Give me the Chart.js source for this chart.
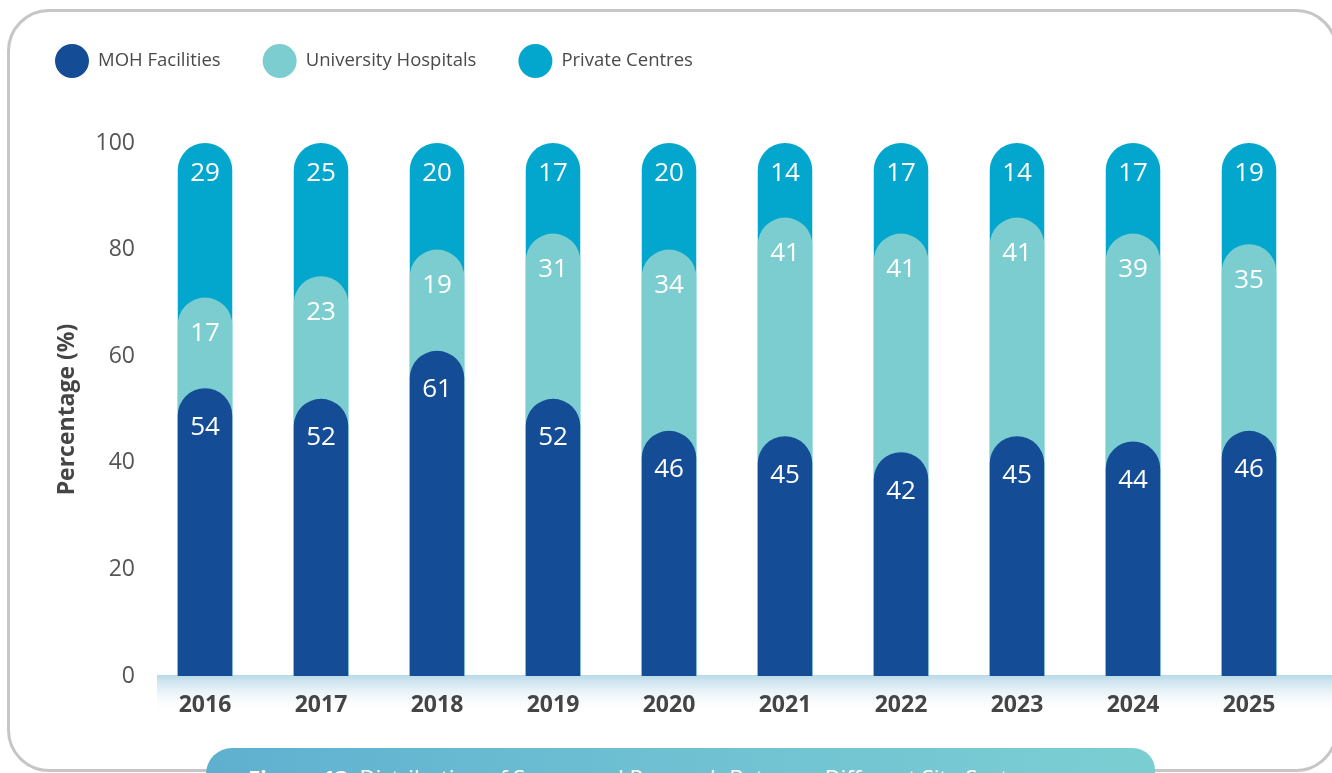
<!DOCTYPE html>
<html>
<head>
<meta charset="utf-8">
<script src="https://cdn.jsdelivr.net/npm/chart.js@4.4.1/dist/chart.umd.min.js"></script>
<style>
  html, body { margin: 0; padding: 0; background: #fff; }
  body { width: 1332px; height: 773px; position: relative; overflow: hidden; font-family: "Open Sans", sans-serif; }
  .card {
    position: absolute; left: 7px; top: 9px; width: 1325px; height: 757px;
    border: 3px solid #c6c6c8; border-radius: 42px; box-sizing: content-box;
  }
  .wrap { position: absolute; left: 0; top: 0; width: 1332px; height: 773px; }
  .banner {
    position: absolute; left: 206px; top: 748px; width: 949px; height: 60px;
    border-radius: 26px 22px 0 0;
    background: linear-gradient(90deg, #5fb0d0 0%, #6fc1d2 50%, #7bcfd2 100%);
    color: #fff; font-size: 22px; padding: 14px 0 0 42px; box-sizing: border-box;
    white-space: nowrap; overflow: hidden;
  }
  .banner b { font-weight: 700; }
</style>
</head>
<body>
<div class="card"></div>
<div class="wrap"><canvas id="chart" width="1332" height="773"></canvas></div>
<div class="banner"><b>Figure 13:</b> Distribution of Sponsored Research Between Different Site Sectors</div>
<script>
// values (percent share per year)
const years = ['2016', '2017', '2018', '2019', '2020', '2021', '2022', '2023', '2024', '2025'];
const mohFacilities = [54, 52, 61, 52, 46, 45, 42, 45, 44, 46];
const universityHospitals = [17, 23, 19, 31, 34, 41, 41, 41, 39, 35];
const privateCentres = [29, 25, 20, 17, 20, 14, 17, 14, 17, 19];
const yTicks = [0, 20, 40, 60, 80, 100];

const seriesLabels = ['MOH Facilities', 'University Hospitals', 'Private Centres'];
const seriesColors = ['#144c96', '#7bcdd0', '#03a6cd'];
const segmentValues = [mohFacilities, universityHospitals, privateCentres];

// each bar is drawn from 0 up to the running total so the rounded caps overlap
const upToUniversity = mohFacilities.map((v, i) => v + universityHospitals[i]);
const upToPrivate = upToUniversity.map((v, i) => v + privateCentres[i]);
const barTops = [mohFacilities, upToUniversity, upToPrivate];

// light blue band behind the year labels
const axisBand = {
    id: 'axisBand',
    beforeDraw(chart) {
        const { ctx, chartArea } = chart;
        const top = chartArea.bottom - 1;
        const g = ctx.createLinearGradient(0, top, 0, top + 38);
        g.addColorStop(0, '#b8d9e8');
        g.addColorStop(1, 'rgba(255,255,255,0)');
        ctx.save();
        ctx.fillStyle = g;
        ctx.fillRect(157, top, chart.width - 157, 38);
        ctx.restore();
    }
};

// white value labels just under the top of each segment
const segmentLabels = {
    id: 'segmentLabels',
    afterDatasetsDraw(chart) {
        const { ctx } = chart;
        const offsets = [39, 36, 31];
        ctx.save();
        ctx.font = '400 26px "Open Sans"';
        ctx.fillStyle = '#ffffff';
        ctx.textAlign = 'center';
        ctx.textBaseline = 'middle';
        chart.data.datasets.forEach((ds, d) => {
            chart.getDatasetMeta(d).data.forEach((bar, i) => {
                ctx.fillText(String(segmentValues[d][i]), bar.x, bar.y + offsets[d]);
            });
        });
        ctx.restore();
    }
};

// legend with big round markers
const bigLegend = {
    id: 'bigLegend',
    afterDraw(chart) {
        const { ctx } = chart;
        ctx.save();
        ctx.font = '400 18.5px "Open Sans"';
        ctx.textBaseline = 'middle';
        let x = 55;
        const y = 61;
        chart.data.datasets.forEach(ds => {
            ctx.fillStyle = ds.backgroundColor;
            ctx.beginPath();
            ctx.arc(x + 17, y, 17, 0, Math.PI * 2);
            ctx.fill();
            ctx.fillStyle = '#4a4a4a';
            ctx.fillText(ds.label, x + 43, y);
            x += 43 + ctx.measureText(ds.label).width + 42;
        });
        ctx.restore();
    }
};

new Chart(document.getElementById('chart'), {
    type: 'bar',
    data: {
        labels: years,
        datasets: barTops.map((tops, d) => ({
            label: seriesLabels[d],
            data: tops,
            backgroundColor: seriesColors[d],
            borderRadius: 30,
            borderSkipped: 'start',
            grouped: false,
            barPercentage: 0.47,
            categoryPercentage: 1
        }))
    },
    options: {
        responsive: false,
        animation: false,
        layout: { padding: { left: 50, right: 25, top: 143, bottom: 59 } },
        plugins: { legend: { display: false }, tooltip: { enabled: false } },
        scales: {
            x: {
                grid: { display: false },
                border: { display: false },
                ticks: { color: '#454545', font: { family: 'Open Sans', size: 23, weight: '700' }, padding: 8 },
                afterFit: s => { s.height = 38; }
            },
            y: {
                min: 0,
                max: 100,
                grid: { display: false, drawTicks: false },
                border: { display: false },
                afterBuildTicks: s => { s.ticks = yTicks.map(v => ({ value: v })); },
                ticks: { color: '#555555', font: { family: 'Open Sans', size: 23 }, padding: 12 },
                title: {
                    display: true,
                    text: 'Percentage (%)',
                    color: '#454545',
                    font: { family: 'Open Sans', size: 23, weight: '700' },
                    padding: { top: 4, bottom: 4 }
                },
                afterFit: s => { s.width = 97; }
            }
        }
    },
    plugins: [axisBand, segmentLabels, bigLegend]
});
</script>
</body>
</html>
